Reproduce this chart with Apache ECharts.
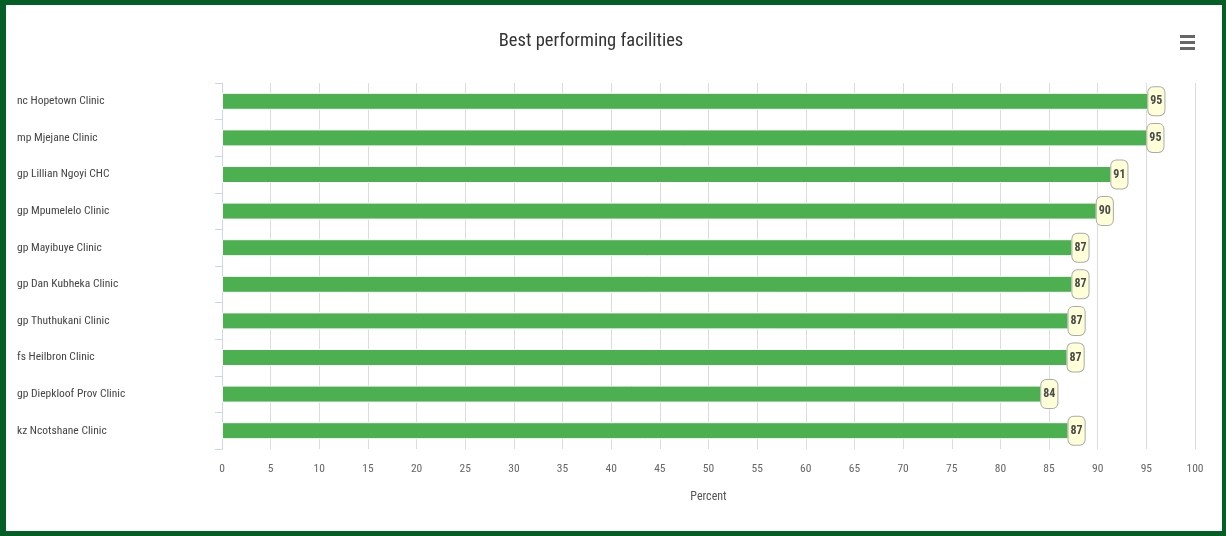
<!DOCTYPE html>
<html>
<head>
<meta charset="utf-8">
<script src="https://cdn.jsdelivr.net/npm/echarts@6/dist/echarts.min.js"></script>
<style>
  html, body { margin: 0; padding: 0; background: #fff; }
  #chart { width: 1226px; height: 536px; }
</style>
</head>
<body>
<div id="chart"></div>
<script>
const categories = [
  "nc Hopetown Clinic",
  "mp Mjejane Clinic",
  "gp Lillian Ngoyi CHC",
  "gp Mpumelelo Clinic",
  "gp Mayibuye Clinic",
  "gp Dan Kubheka Clinic",
  "gp Thuthukani Clinic",
  "fs Heilbron Clinic",
  "gp Diepkloof Prov Clinic",
  "kz Ncotshane Clinic"
];
const values = [95.2, 95.1, 91.4, 89.9, 87.4, 87.4, 87.0, 86.9, 84.2, 87.0];
const xTicks = { min: 0, max: 100, interval: 5 };

const FONT = "'Roboto Condensed', 'DejaVu Sans Condensed', sans-serif";
const BORDER = "#045e26";

const chart = echarts.init(document.getElementById('chart'), null, { renderer: 'canvas' });
chart.setOption({
  backgroundColor: '#ffffff',
  animation: false,
  textStyle: { fontFamily: FONT },
  title: {
    text: 'Best performing facilities',
    left: 586,
    top: 27,
    textAlign: 'center',
    textStyle: { fontFamily: FONT, fontSize: 18.5, fontWeight: 'normal', color: '#333333' }
  },
  grid: { left: 222, right: 31, top: 83, bottom: 87, containLabel: false },
  xAxis: {
    type: 'value',
    min: xTicks.min, max: xTicks.max, interval: xTicks.interval,
    name: 'Percent',
    nameLocation: 'middle',
    nameGap: 42,
    nameTextStyle: { fontFamily: FONT, fontSize: 12, color: '#555555' },
    axisLine: { show: false },
    axisTick: { show: false },
    axisLabel: { fontFamily: FONT, fontSize: 11.5, color: '#666666', margin: 14 },
    splitLine: { show: true, lineStyle: { color: '#dcdcdc', width: 1 } }
  },
  yAxis: {
    type: 'category',
    data: categories,
    inverse: true,
    axisLine: { show: true, lineStyle: { color: '#ccd6eb', width: 1 } },
    axisTick: { show: true, length: 7, lineStyle: { color: '#ccd6eb' } },
    axisLabel: { fontFamily: FONT, fontSize: 11.5, color: '#444444', align: 'left', margin: 205 },
    splitLine: { show: false }
  },
  series: [{
    type: 'bar',
    data: values,
    barWidth: 17,
    itemStyle: { color: '#4caf50', borderColor: '#ffffff', borderWidth: 1 },
    label: {
      show: true,
      position: 'right',
      distance: 0,
      formatter: p => Math.round(p.value),
      fontFamily: FONT,
      fontSize: 12,
      fontWeight: 'bold',
      color: '#4a4a4a',
      backgroundColor: '#ffffd8',
      borderColor: '#aaaaaa',
      borderWidth: 1,
      borderRadius: 5,
      padding: [8, 2, 8, 2]
    }
  }],
  graphic: [
    { type: 'rect', silent: true, shape: { x: 1180, y: 35, width: 15, height: 3 }, style: { fill: '#666666' } },
    { type: 'rect', silent: true, shape: { x: 1180, y: 41, width: 15, height: 3 }, style: { fill: '#666666' } },
    { type: 'rect', silent: true, shape: { x: 1180, y: 47, width: 15, height: 3 }, style: { fill: '#666666' } },
    { type: 'rect', silent: true, shape: { x: 0, y: 0, width: 1226, height: 5 }, style: { fill: BORDER } },
    { type: 'rect', silent: true, shape: { x: 0, y: 531, width: 1226, height: 5 }, style: { fill: BORDER } },
    { type: 'rect', silent: true, shape: { x: 0, y: 0, width: 6, height: 536 }, style: { fill: BORDER } },
    { type: 'rect', silent: true, shape: { x: 1222, y: 0, width: 4, height: 536 }, style: { fill: BORDER } }
  ]
});
</script>
</body>
</html>
